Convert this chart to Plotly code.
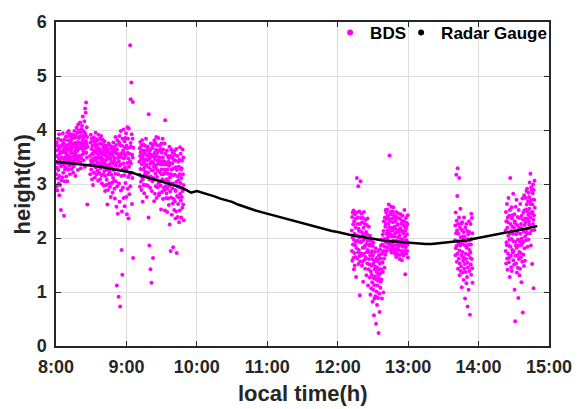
import numpy as np
import plotly.graph_objects as go

# ---------------------------------------------------------------------------
# BDS retrieved heights, in centimetres, sampled every 10 s (one row = 1 min)
# ---------------------------------------------------------------------------
SAMPLE_SECONDS = 10

bds_start_1 = "08:00"
bds_cm_1 = [
    341, 318, 362, 295, 377, 330,
    352, 288, 339, 371, 310, 384,
    326, 364, 301, 347, 392, 279,
    315, 356, 338, 298, 369, 343,
    360, 252, 333, 381, 307, 349,
    337, 372, 312, 359, 289, 394,
    348, 321, 376, 336, 365, 241,
    359, 305, 383, 344, 327, 370,
    331, 367, 350, 388, 314, 356,
    372, 339, 362, 305, 395, 346,
    353, 381, 327, 366, 342, 398,
    366, 334, 389, 351, 373, 318,
    345, 377, 359, 392, 336, 364,
    382, 349, 368, 328, 386, 357,
    357, 391, 341, 374, 321, 338,
    369, 333, 385, 352, 398, 344,
    348, 376, 362, 315, 390, 358,
    386, 353, 371, 404, 339, 366,
    361, 395, 347, 378, 326, 410,
    374, 342, 399, 365, 385, 351,
    352, 388, 368, 414, 340, 376,
    395, 329, 377, 347, 402, 366,
    369, 408, 354, 389, 372, 425,
    382, 361, 398, 344, 387, 370,
    357, 416, 376, 395, 332, 440,
    391, 366, 432, 379, 451, 358,
    374, 405, 349, 387, 262, 369,
]

bds_start_2 = "08:29"
bds_cm_2 = [
    352, 318, 377, 336, 391, 344,
    327, 365, 341, 384, 309, 356,
    371, 338, 355, 298, 379, 347,
    343, 386, 321, 362, 334, 372,
    359, 312, 378, 349, 395, 331,
    336, 368, 344, 383, 318, 357,
    381, 325, 362, 340, 373, 306,
    348, 391, 333, 366, 352, 321,
    362, 337, 384, 309, 356, 375,
    329, 358, 343, 389, 316, 349,
    374, 301, 361, 336, 382, 345,
    341, 367, 318, 355, 297, 372,
    357, 324, 379, 342, 363, 287,
    315, 353, 336, 371, 298, 346,
    368, 308, 345, 327, 359, 262,
    332, 364, 289, 351, 318, 375,
    349, 301, 336, 372, 323, 354,
    295, 358, 331, 347, 276, 366,
    341, 317, 369, 302, 355, 329,
    363, 284, 338, 352, 311, 377,
    326, 359, 305, 343, 368, 291,
    348, 273, 361, 319, 387, 334,
    305, 372, 339, 258, 356, 112,
    364, 296, 381, 327, 245, 348,
    318, 355, 91, 342, 301, 377,
    389, 267, 334, 372, 73, 351,
    336, 398, 288, 357, 315, 178,
    371, 249, 349, 132, 384, 327,
    293, 362, 338, 401, 274, 356,
    347, 316, 379, 259, 368, 331,
    385, 302, 353, 327, 394, 276,
    325, 371, 244, 366, 339, 405,
    358, 291, 384, 313, 347, 236,
    403, 332, 367, 281, 356, 318,
    342, 557, 296, 376, 457, 338,
    369, 488, 321, 392, 263, 354,
    311, 384, 349, 452, 163, 367,
]

bds_start_3 = "09:11"
bds_cm_3 = [
    341, 317, 366, 295, 352, 378,
    328, 359, 304, 346, 371, 289,
    362, 336, 381, 312, 349, 267,
    309, 354, 327, 373, 298, 341,
    346, 283, 362, 331, 357, 318,
    371, 322, 345, 298, 384, 336,
    335, 362, 276, 353, 314, 369,
    297, 344, 368, 321, 352, 238,
    429, 331, 356, 186, 309, 347,
    362, 293, 338, 142, 375, 314,
    326, 354, 117, 341, 287, 366,
    351, 305, 369, 325, 163, 339,
    311, 374, 332, 352, 268, 381,
    358, 282, 346, 376, 319, 335,
    296, 363, 329, 387, 274, 352,
    372, 313, 358, 294, 343, 325,
    337, 385, 301, 362, 279, 349,
    283, 349, 322, 371, 341, 305,
    364, 297, 336, 253, 375, 318,
    327, 358, 285, 342, 309, 384,
    349, 272, 364, 318, 336, 293,
    305, 342, 289, 375, 327, 251,
    418, 321, 356, 296, 338, 274,
    336, 283, 309, 362, 248, 327,
    291, 352, 319, 273, 341, 304,
    348, 261, 334, 297, 369, 225,
    312, 339, 286, 352, 176, 318,
    275, 364, 301, 327, 243, 349,
    338, 292, 358, 264, 316, 183,
    301, 345, 272, 329, 252, 361,
    354, 268, 317, 289, 343, 236,
    287, 331, 249, 365, 304, 172,
    326, 278, 352, 296, 239, 314,
    263, 341, 307, 275, 332, 229,
    345, 294, 318, 251, 368, 282,
    302, 356, 269, 327, 238, 311,
    329, 276, 343, 291, 256, 364,
    287, 318, 262, 349, 298, 233,
]

bds_start_4 = "12:12"
bds_cm_4 = [
    214, 176, 239, 158, 201, 247,
    188, 225, 163, 251, 197, 142,
    231, 172, 208, 149, 244, 186,
    165, 219, 193, 236, 128, 204,
    247, 181, 311, 162, 226, 195,
    204, 238, 173, 296, 152, 217,
    178, 213, 249, 166, 201, 94,
    226, 157, 192, 305, 237, 171,
    193, 245, 168, 211, 149, 229,
    156, 204, 182, 237, 119, 196,
    219, 171, 248, 159, 207, 183,
    185, 226, 143, 199, 165, 234,
    162, 211, 189, 131, 224, 174,
    207, 153, 236, 178, 195, 112,
    174, 198, 142, 221, 161, 187,
    151, 186, 127, 204, 168, 95,
    189, 138, 172, 107, 196, 149,
    132, 176, 118, 161, 82, 185,
    168, 104, 153, 191, 126, 57,
    113, 159, 88, 142, 174, 129,
    147, 92, 181, 124, 41, 158,
    101, 137, 163, 76, 145, 112,
    158, 121, 89, 176, 133, 24,
    126, 168, 97, 141, 63, 153,
    179, 134, 108, 162, 119, 186,
    142, 197, 123, 171, 88, 155,
    188, 154, 206, 137, 174, 99,
    213, 176, 231, 162, 198, 145,
    184, 238, 197, 221, 169, 252,
    226, 191, 247, 208, 176, 235,
    198, 253, 214, 183, 241, 202,
    237, 206, 226, 262, 189, 219,
    211, 353, 194, 232, 178, 248,
    244, 187, 219, 206, 258, 173,
    203, 236, 182, 249, 214, 191,
    229, 195, 257, 177, 218, 242,
    186, 221, 203, 238, 171, 209,
    217, 179, 232, 194, 248, 165,
    195, 239, 172, 211, 188, 226,
    224, 183, 246, 201, 169, 215,
    178, 212, 193, 236, 205, 161,
    236, 169, 218, 187, 244, 198,
    191, 227, 176, 213, 159, 232,
    213, 184, 241, 197, 224, 172,
    168, 209, 188, 231, 176, 252,
    221, 192, 203, 133, 214, 183,
    185, 237, 171, 219, 196, 228,
    207, 176, 225, 188, 242, 164,
]

bds_start_5 = "13:40"
bds_cm_5 = [
    196, 223, 168, 247, 181, 209,
    317, 185, 232, 156, 214, 278,
    171, 329, 194, 143, 226, 188,
    208, 162, 238, 311, 177, 131,
    153, 219, 186, 254, 139, 201,
    192, 147, 227, 168, 109, 215,
    229, 174, 203, 136, 189, 158,
    164, 211, 122, 197, 238, 143,
    203, 152, 186, 88, 219, 171,
    137, 194, 161, 226, 116, 182,
    185, 128, 213, 154, 73, 198,
    146, 207, 169, 104, 188, 231,
    211, 139, 178, 196, 58, 163,
    173, 226, 151, 188, 132, 245,
    198, 161, 237, 144, 209, 117,
]

bds_start_6 = "14:23"
bds_cm_6 = [
    214, 176, 248, 153, 231, 192,
    187, 263, 162, 219, 141, 238,
    229, 171, 204, 274, 186, 155,
    163, 241, 197, 128, 252, 209,
    311, 184, 226, 167, 213, 146,
    198, 257, 139, 236, 178, 221,
    242, 173, 208, 282, 159, 194,
    176, 219, 151, 244, 104, 231,
    228, 46, 193, 167, 258, 186,
    153, 207, 271, 182, 136, 224,
    211, 168, 239, 145, 197, 89,
    186, 252, 161, 219, 174, 131,
    237, 194, 143, 263, 208, 172,
    164, 226, 187, 118, 241, 199,
    218, 156, 273, 191, 62, 234,
    193, 247, 169, 212, 148, 279,
    251, 181, 224, 158, 203, 236,
    229, 274, 196, 253, 211, 287,
    262, 208, 291, 236, 184, 249,
    217, 268, 243, 197, 284, 231,
    276, 225, 254, 303, 209, 268,
    238, 319, 263, 186, 246, 294,
    271, 214, 289, 247, 152, 262,
    248, 283, 226, 299, 234, 107,
    289, 242, 271, 215, 306, 256,
]

# ---------------------------------------------------------------------------
# Radar gauge water level (m), every 5 minutes from 08:00
# ---------------------------------------------------------------------------
radar_start = "08:00"
radar_step_minutes = 5
radar_m = [
    3.41, 3.40, 3.39, 3.37, 3.36, 3.35, 3.34, 3.33, 3.31, 3.29, 3.27, 3.25,
    3.24, 3.21, 3.17, 3.14, 3.10, 3.08, 3.05, 3.02, 2.98, 2.95, 2.90, 2.84,
    2.87, 2.84, 2.80, 2.77, 2.73, 2.70, 2.67, 2.62, 2.58, 2.54, 2.51, 2.48,
    2.45, 2.42, 2.39, 2.36, 2.34, 2.31, 2.28, 2.25, 2.22, 2.19, 2.16, 2.13,
    2.11, 2.08, 2.06, 2.04, 2.02, 2.00, 1.98, 1.97, 1.95, 1.94, 1.93, 1.92,
    1.91, 1.90, 1.90, 1.89, 1.89, 1.90, 1.92, 1.93, 1.94, 1.95, 1.96, 1.98,
    2.00, 2.02, 2.04, 2.06, 2.08, 2.10, 2.12, 2.15, 2.17, 2.20, 2.22,
]

x_tick_hours = [8, 9, 10, 11, 12, 13, 14, 15]
x_tick_labels = ["8:00", "9:00", "10:00", "11:00", "12:00", "13:00", "14:00", "15:00"]
y_ticks = [0, 1, 2, 3, 4, 5, 6]


def clock_to_hours(text):
    h, m = text.split(":")
    return int(h) + int(m) / 60.0


bds_segments = [
    (bds_start_1, bds_cm_1), (bds_start_2, bds_cm_2), (bds_start_3, bds_cm_3),
    (bds_start_4, bds_cm_4), (bds_start_5, bds_cm_5), (bds_start_6, bds_cm_6),
]
bds_x, bds_y = [], []
for start, cm in bds_segments:
    t0 = clock_to_hours(start)
    bds_x.extend(t0 + np.arange(len(cm)) * SAMPLE_SECONDS / 3600.0)
    bds_y.extend(np.asarray(cm) / 100.0)

radar_x = clock_to_hours(radar_start) + np.arange(len(radar_m)) * radar_step_minutes / 60.0

MAGENTA = "#ff00ff"
FONT = "Liberation Sans, Arial, sans-serif"

fig = go.Figure()
fig.add_trace(go.Scatter(
    x=bds_x, y=bds_y, mode="markers", showlegend=False,
    marker=dict(color=MAGENTA, size=4, line=dict(width=0)),
))
fig.add_trace(go.Scatter(
    x=radar_x, y=radar_m, mode="lines", showlegend=False,
    line=dict(color="black", width=2.5),
))
# legend entries (dot symbols), one legend box each so they sit side by side
fig.add_trace(go.Scatter(x=[None], y=[None], mode="markers", name="BDS",
                         legend="legend",
                         marker=dict(color=MAGENTA, size=6)))
fig.add_trace(go.Scatter(x=[None], y=[None], mode="markers", name="Radar Gauge",
                         legend="legend2",
                         marker=dict(color="black", size=6)))

axis_common = dict(
    showline=True, linecolor="#262626", linewidth=1.5, mirror="ticks",
    ticks="inside", ticklen=5, tickwidth=1.2, tickcolor="#262626",
    showgrid=True, gridcolor="#dedede", gridwidth=1, zeroline=False,
    tickfont=dict(family=FONT, size=18, color="#262626", weight="bold"),
)

fig.update_xaxes(range=[8, 15], tickvals=x_tick_hours, ticktext=x_tick_labels,
                 ticklabelstandoff=4, **axis_common)
fig.update_yaxes(range=[0, 6], tickvals=y_ticks, ticklabelstandoff=4, **axis_common)

legend_style = dict(
    orientation="h", y=1.022, xanchor="left", yanchor="top",
    bgcolor="rgba(0,0,0,0)", borderwidth=0,
    font=dict(family=FONT, size=17, color="black", weight="bold"),
    itemsizing="trace",
)

fig.update_layout(
    width=584, height=409,
    margin=dict(l=56, r=27, t=13, b=63),
    paper_bgcolor="white", plot_bgcolor="white",
    font=dict(family=FONT, color="#262626"),
    legend=dict(x=0.556, **legend_style),
    legend2=dict(x=0.700, **legend_style),
    annotations=[
        dict(text="local time(h)", xref="paper", yref="paper", x=0.5, y=-0.147,
             xanchor="center", yanchor="middle", showarrow=False,
             font=dict(family=FONT, size=22, color="#262626", weight="bold")),
        dict(text="height(m)", xref="paper", yref="paper", x=-0.068, y=0.5,
             xanchor="center", yanchor="middle", showarrow=False, textangle=-90,
             font=dict(family=FONT, size=22, color="#262626", weight="bold")),
    ],
)

fig.write_html("out.html")
